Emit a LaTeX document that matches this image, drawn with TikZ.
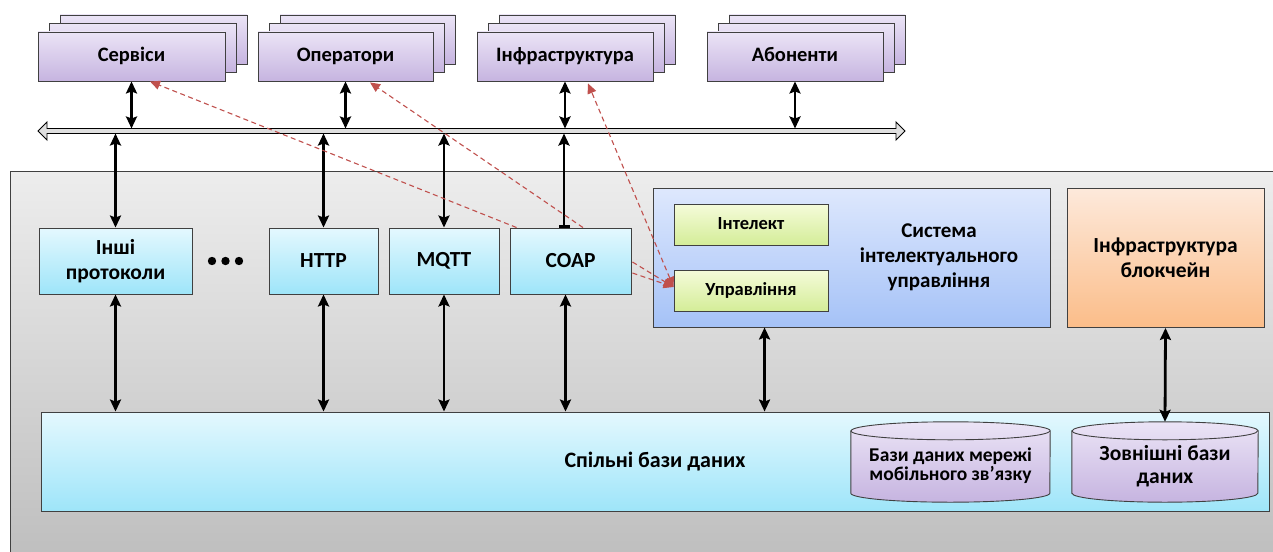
\documentclass[tikz,border=0pt]{standalone}
\usepackage{fontspec}
\setmainfont{Carlito}
\usetikzlibrary{arrows.meta,calc}

\definecolor{edge}{HTML}{404040}
\definecolor{purpT}{HTML}{EBE4F6}
\definecolor{purpB}{HTML}{C6B4E0}
\definecolor{cyanT}{HTML}{E4F8FE}
\definecolor{cyanB}{HTML}{9EE5F9}
\definecolor{blueT}{HTML}{DEE8FD}
\definecolor{blueB}{HTML}{A5C2F7}
\definecolor{greenT}{HTML}{F5FBDA}
\definecolor{greenB}{HTML}{D4ED98}
\definecolor{orangeT}{HTML}{FDE9DB}
\definecolor{orangeB}{HTML}{FBBD89}
\definecolor{grayT}{HTML}{EDEDED}
\definecolor{grayB}{HTML}{BDBDBD}
\definecolor{linkred}{HTML}{C0504D}

\tikzset{
  box/.style={draw=edge, line width=0.9pt, inner sep=0pt, align=center,
              font=\bfseries\fontsize{20.5}{25}\selectfont},
  actor/.style={box, top color=purpT, bottom color=purpB, text height=14pt, text depth=4.5pt},
  proto/.style={box, top color=cyanT, bottom color=cyanB, font=\bfseries\fontsize{21.5}{25}\selectfont},
  module/.style={box, top color=greenT, bottom color=greenB, font=\bfseries\fontsize{18.5}{22}\selectfont,
                 text height=13pt, text depth=4pt},
  dbshape/.style={draw=edge, line width=0.9pt, top color=purpT, bottom color=purpB},
  link/.style={line width=2.8pt, {Stealth[length=12pt,width=11pt,inset=2pt]}-{Stealth[length=12pt,width=11pt,inset=2pt]}},
  linkbar/.style={line width=2.8pt, {Stealth[length=12pt,width=11pt,inset=2pt]}-{Bar[width=11pt,line width=2.4pt]}},
  ctrl/.style={linkred, line width=1.1pt, dash pattern=on 5pt off 3.5pt, -{Triangle[length=10pt,width=9pt]}},
  ctrlboth/.style={ctrl, {Triangle[length=10pt,width=9pt]}-{Triangle[length=10pt,width=9pt]}},
}

\begin{document}
\begin{tikzpicture}[x=1pt,y=1pt]
\useasboundingbox (0,0) rectangle (1273,-551);
\clip (0,0) rectangle (1273,-551);
\fill[white] (0,0) rectangle (1273,-551);

% platform container
\node[draw=edge, line width=0.9pt, top color=grayT, bottom color=grayB,
      minimum width=1280, minimum height=399, inner sep=0pt] (platform) at (650,-370.5) {};

% stacked actor groups: two back sheets, then the front box
\foreach \cx/\w in {131.5/187, 345.5/175, 565/176, 795/176}{
  \node[actor, minimum width=\w, minimum height=49] at (\cx+22,-39.5) {};
  \node[actor, minimum width=\w, minimum height=49] at (\cx+11,-48) {};
}
\node[actor, minimum width=187, minimum height=49] (serv)  at (131.5,-56.5) {Сервіси};
\node[actor, minimum width=175, minimum height=49] (oper)  at (345.5,-56.5) {Оператори};
\node[actor, minimum width=176, minimum height=49] (infra) at (565,-56.5)   {Інфраструктура};
\node[actor, minimum width=176, minimum height=49] (abon)  at (795,-56.5)   {Абоненти};

% common bus (hollow double arrow)
\coordinate (busL) at (38,-131);
\coordinate (busR) at (905,-131);
\coordinate (busTop) at (0,-128.5);
\coordinate (busBot) at (0,-133.5);
\filldraw[fill=gray!25, draw=black, line width=0.9pt]
  (busL) -- ++(9,9) -- ++(0,-6.5) -- ($(busR)+(-9,2.5)$) -- ++(0,6.5) -- (busR)
  -- ++(-9,-9) -- ++(0,6.5) -- ($(busL)+(9,-2.5)$) -- ++(0,-6.5) -- cycle;

% protocol adapters
\node[proto, minimum width=153, minimum height=66] (other) at (115.5,-261) {Інші\\протоколи};
\node[proto, minimum width=109, minimum height=66] (http)  at (323.5,-261) {HTTP};
\node[proto, minimum width=110, minimum height=66] (mqtt)  at (444,-261)   {MQTT};
\node[proto, minimum width=121, minimum height=66] (coap)  at (570.5,-261) {COAP};
\node[minimum width=36, minimum height=10, inner sep=0pt] (dots) at (225.5,-261) {};
\foreach \dx in {-13.5,0,13.5} \fill ($(dots)+(\dx,0)$) circle (4.2);

% intelligent control system
\node[box, top color=blueT, bottom color=blueB, minimum width=397, minimum height=139] (sys) at (851.5,-257.5) {};
\node[font=\bfseries\fontsize{21}{25}\selectfont, align=center] (systxt) at (939,-257) {Система\\інтелектуального\\управління};
\node[module, minimum width=154, minimum height=41] (intel) at (751,-224.5) {Інтелект};
\node[module, minimum width=154, minimum height=41] (upr)   at (751,-290.5) {Управління};

% blockchain infrastructure
\node[box, top color=orangeT, bottom color=orangeB, minimum width=197, minimum height=139,
      font=\bfseries\fontsize{21.5}{25}\selectfont] (chain) at (1165.5,-258) {Інфраструктура\\блокчейн};

% shared databases
\node[box, top color=cyanT, bottom color=cyanB, minimum width=1228, minimum height=99,
      font=\bfseries\fontsize{22}{26}\selectfont] (shared) at (655,-461.5) {Спільні бази даних};

% database cylinders
\node[minimum width=199, minimum height=80, inner sep=0pt] (mobdb) at (950.5,-462) {};
\node[minimum width=186, minimum height=80, inner sep=0pt] (extdb) at (1165,-462) {};
\foreach \db/\rx in {mobdb/99.5, extdb/93}{
  \path[dbshape] ($(\db.north west)+(0,-9)$) -- ($(\db.south west)+(0,9)$)
    arc[start angle=180, end angle=360, x radius=\rx, y radius=9]
    -- ($(\db.north east)+(0,-9)$)
    arc[start angle=0, end angle=180, x radius=\rx, y radius=9] -- cycle;
  \draw[edge, line width=0.9pt] ($(\db.north west)+(0,-9)$)
    arc[start angle=180, end angle=360, x radius=\rx, y radius=9];
}
\node[font=\bfseries\fontsize{19.5}{19}\selectfont, align=center] at ($(mobdb)+(0,-4)$) {Бази даних мережі\\мобільного зв’язку};
\node[font=\bfseries\fontsize{21.5}{23}\selectfont, align=center] at ($(extdb)+(0,-4)$) {Зовнішні бази\\даних};

% attachment points that sit off the box centres
\coordinate (coapUp) at ($(coap.north)+(-6.5,0)$);
\coordinate (coapDn) at ($(coap.south)+(-5,0)$);
\coordinate (sysDn)  at ($(sys.south west)+(112,0)$);

% actors to bus
\foreach \a in {serv,oper,infra,abon}
  \draw[link] (\a.south) -- (\a.south |- busTop);

% bus to protocols
\foreach \p in {other,http,mqtt}
  \draw[link] (\p.north |- busBot) -- (\p.north);
\draw[linkbar] (coapUp |- busBot) -- (coapUp);

% protocols and subsystems to shared databases
\foreach \p in {other,http,mqtt}
  \draw[link] (\p.south) -- (\p.south |- shared.north);
\draw[link] (coapDn) -- (coapDn |- shared.north);
\draw[link] (sysDn) -- (sysDn |- shared.north);
\draw[link] (chain.south) -- (extdb.north);

% control flows
\coordinate (uprIn) at ($(upr.west)+(0,3.5)$);
\draw[ctrl] ($(coap.north west)+(7,0)$) -- ($(serv.south)+(18.5,0)$);
\draw[ctrl] ($(coap.north)+(12.5,0)$) -- ($(oper.south)+(24.5,-1)$);
\draw[ctrlboth] (uprIn) -- ($(infra.south)+(23,-2)$);
\draw[ctrl] ($(coap.east)+(1,-1)$) -- (uprIn);
\draw[ctrl] ($(coap.east)+(1,-12)$) -- (uprIn);
\end{tikzpicture}
\end{document}
